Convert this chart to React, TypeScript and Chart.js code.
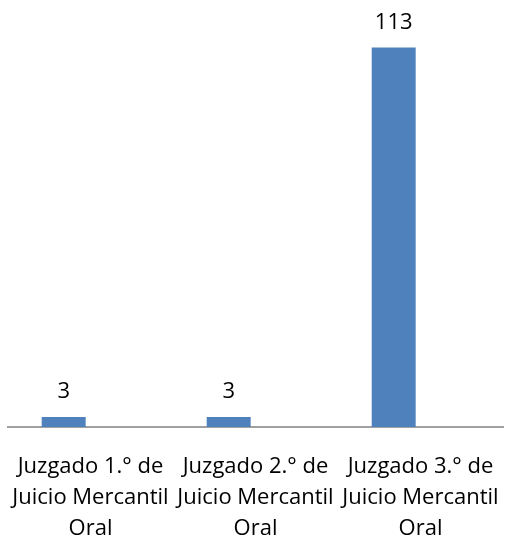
import React, { useEffect, useRef } from "react";
import { Chart, registerables } from "chart.js";

Chart.register(...registerables);

const categories: string[][] = [
  ["Juzgado 1.° de", "Juicio Mercantil", "Oral"],
  ["Juzgado 2.° de", "Juicio Mercantil", "Oral"],
  ["Juzgado 3.° de", "Juicio Mercantil", "Oral"],
];
const values: number[] = [3, 3, 113];
const emptySeries: (number | null)[] = [null, null, null];

const FONT = "'Open Sans', 'DejaVu Sans', sans-serif";

const valueLabels = {
  id: "valueLabels",
  afterDatasetsDraw(chart: any) {
    const ctx = chart.ctx;
    const meta = chart.getDatasetMeta(0);
    ctx.save();
    ctx.fillStyle = "#000000";
    ctx.font = `22px ${FONT}`;
    ctx.textAlign = "center";
    ctx.textBaseline = "middle";
    meta.data.forEach((bar: any, i: number) => {
      const v = chart.data.datasets[0].data[i];
      if (v == null) return;
      ctx.fillText(String(v), bar.x, bar.y - 25);
    });
    ctx.restore();
  },
};

export default function App() {
  const ref = useRef<HTMLCanvasElement | null>(null);
  useEffect(() => {
    if (!ref.current) return;
    const chart = new Chart(ref.current, {
      type: "bar",
      data: {
        labels: categories,
        datasets: [
          {
            data: values,
            backgroundColor: "#4f81bd",
            borderWidth: 0,
            categoryPercentage: 0.65,
            barPercentage: 0.82,
          },
          {
            data: emptySeries,
            backgroundColor: "#c0504d",
            categoryPercentage: 0.65,
            barPercentage: 0.82,
          },
        ],
      },
      options: {
        animation: false,
        responsive: false,
        maintainAspectRatio: false,
        layout: { padding: { left: 8, right: 5, top: 24, bottom: 0 } },
        plugins: {
          legend: { display: false },
          tooltip: { enabled: false },
        },
        scales: {
          x: {
            grid: { display: false, drawTicks: false },
            border: { display: true, color: "#a0a0a0", width: 2 },
            ticks: {
              color: "#000000",
              padding: 24,
              maxRotation: 0,
              autoSkip: false,
              font: { family: FONT, size: 22, lineHeight: "31px" },
            },
            afterFit: (scale: any) => {
              scale.height = 112;
              scale.paddingLeft = 0;
              scale.paddingRight = 0;
            },
          },
          y: {
            display: false,
            min: 0,
            max: 120,
          },
        },
      },
      plugins: [valueLabels],
    });
    return () => chart.destroy();
  }, []);
  return (
    <div style={{ position: "fixed", left: 0, top: 0, width: 508, height: 539, background: "#ffffff" }}>
      <canvas ref={ref} width={508} height={539} style={{ display: "block" }} />
    </div>
  );
}
